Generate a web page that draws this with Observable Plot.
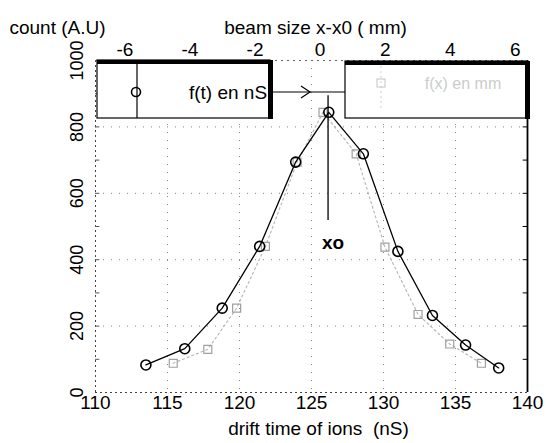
<!DOCTYPE html>
<html><head><meta charset="utf-8">
<script src="https://cdn.jsdelivr.net/npm/d3@7"></script>
<script src="https://cdn.jsdelivr.net/npm/@observablehq/plot@0.6"></script>
<style>
html,body{margin:0;padding:0;background:#fff;}
#chart svg{display:block;}
</style></head><body><div id="chart"></div>
<script>
// ---- data ----
const driftTime   = [113.5, 116.2, 118.8, 121.4, 123.9, 126.2, 128.6, 131.0, 133.4, 135.7, 138.0];
const countCircle = [83, 132, 254, 440, 694, 844, 719, 425, 232, 143, 74];
const squareTime  = [115.4, 117.8, 119.8, 121.8, 124.0, 125.8, 128.1, 130.1, 132.4, 134.6, 136.8];
const countSquare = [88, 130, 254, 440, 694, 844, 719, 438, 235, 146, 88];
const xTicks  = [110, 115, 120, 125, 130, 135, 140];
const yTicks  = [0, 200, 400, 600, 800, 1000];
const mmTicks = [-6, -4, -2, 0, 2, 4, 6];
const minorY  = [100, 200, 300, 400, 500, 600, 700, 800, 900];
const mmZero = 125.6;      // drift time (nS) at x-x0 = 0 mm
const nsPerMm = 2.26;      // nS per mm on the top axis
const xo = 126.15, xoTop = 894, xoBottom = 518, xoLabelY = 452;
const legendLabels = ["f(t) en nS", "f(x) en mm"];
const titles = {x: "drift time of ions  (nS)", x2: "beam size x-x0 ( mm)", y: "count (A.U)"};

const circles = driftTime.map((t, i) => ({t, c: countCircle[i]}));
const squares = squareTime.map((t, i) => ({t, c: countSquare[i]}));
const toNs = mm => mmZero + mm * nsPerMm;
const font = "'Liberation Sans', Arial, sans-serif";

const plot = Plot.plot({
  width: 546, height: 443,
  marginLeft: 95, marginRight: 19, marginTop: 60, marginBottom: 51,
  style: {fontFamily: font, fontSize: "19px", color: "#000", background: "#fff"},
  x: {domain: [110, 140]},
  y: {domain: [0, 1000]},
  marks: [
    Plot.gridX(xTicks.slice(1, -1), {stroke: "#888", strokeOpacity: 1, strokeDasharray: "1,7"}),
    Plot.gridY(yTicks.slice(1, -1), {stroke: "#888", strokeOpacity: 1, strokeDasharray: "1,7"}),
    Plot.ruleX([110], {stroke: "#444", strokeDasharray: "2,3"}),
    Plot.ruleY([0], {stroke: "#444", strokeDasharray: "2,3"}),
    Plot.ruleY([1000], {stroke: "#666", strokeDasharray: "2,4"}),
    Plot.ruleX([140], {stroke: "#000", strokeWidth: 1.8}),
    Plot.ruleY(minorY, {x1: 139.7, x2: 140, stroke: "#000"}),
    Plot.ruleY(minorY, {x1: 110, x2: 110.3, stroke: "#555"}),
    Plot.line(squares, {x: "t", y: "c", stroke: "#b8b8b8", strokeWidth: 1.2, strokeDasharray: "2,3"}),
    Plot.dot(squares, {x: "t", y: "c", symbol: "square", r: 4.5, stroke: "#a0a0a0", strokeWidth: 1.2, fill: "none"}),
    Plot.line(circles, {x: "t", y: "c", stroke: "#000", strokeWidth: 1.3}),
    Plot.dot(circles, {x: "t", y: "c", r: 5, stroke: "#000", strokeWidth: 1.6, fill: "none"}),
    Plot.ruleX([xo], {y1: xoTop, y2: xoBottom, stroke: "#000", strokeWidth: 1.3}),
    Plot.text([xo], {x: d => d, y: xoLabelY, text: () => "xo", fontWeight: "bold", fontSize: 19, dx: 5}),
    Plot.axisX(xTicks, {anchor: "bottom", tickSize: 0, tickPadding: 3, fontSize: 19, label: null,
      tickFormat: d => String(d)}),
    Plot.axisX(mmTicks.map(toNs), {anchor: "top", tickSize: 0, tickPadding: 5, fontSize: 19, label: null,
      tickFormat: d => String(Math.round((d - mmZero) / nsPerMm))}),
    Plot.axisY(yTicks, {anchor: "left", tickSize: 0, tickRotate: -90, tickPadding: 13, fontSize: 18, label: null,
      tickFormat: d => String(d)}),
    Plot.text([titles.x], {frameAnchor: "bottom", text: d => d, dy: 42, dx: 7, fontSize: 19}),
    Plot.text([titles.x2], {frameAnchor: "top", text: d => d, dy: -40, dx: 4, fontSize: 19}),
    Plot.text([titles.y], {frameAnchor: "top-left", text: d => d, textAnchor: "middle", dy: -40, dx: -38, fontSize: 19})
  ]
});
document.getElementById("chart").appendChild(plot);

// ---- legend boxes (annotation layer) ----
const svg = d3.select(plot);
const lg = svg.append("g").attr("font-family", font);
function box(x, y, w, h) {
  lg.append("rect").attr("x", x).attr("y", y).attr("width", w).attr("height", h)
    .attr("fill", "#fff").attr("stroke", "#000").attr("stroke-width", 1.2);
  lg.append("rect").attr("x", x).attr("y", y).attr("width", w + 3).attr("height", 4).attr("fill", "#000");
  lg.append("rect").attr("x", x + w - 2).attr("y", y).attr("width", 5).attr("height", h + 1).attr("fill", "#000");
}
box(97, 60, 173, 58);
box(345, 61, 182, 57);
// left legend entry
lg.append("line").attr("x1", 137).attr("x2", 137).attr("y1", 62).attr("y2", 118).attr("stroke", "#000").attr("stroke-width", 1.2);
lg.append("circle").attr("cx", 136).attr("cy", 92).attr("r", 4.5).attr("fill", "none").attr("stroke", "#000").attr("stroke-width", 1.6);
lg.append("text").attr("x", 228).attr("y", 92).attr("dy", "0.35em").attr("text-anchor", "middle")
  .attr("font-size", 19).text(legendLabels[0]);
// right legend entry (faint)
lg.append("line").attr("x1", 381).attr("x2", 381).attr("y1", 66).attr("y2", 110).attr("stroke", "#cfcfcf").attr("stroke-dasharray", "2,3");
lg.append("rect").attr("x", 377).attr("y", 79).attr("width", 8).attr("height", 8).attr("fill", "none").attr("stroke", "#c4c4c4");
lg.append("text").attr("x", 463).attr("y", 83).attr("dy", "0.35em").attr("text-anchor", "middle")
  .attr("font-size", 16).attr("fill", "#cccccc").text(legendLabels[1]);
// arrow between boxes
lg.append("path").attr("d", "M270,92H345").attr("stroke", "#000").attr("stroke-width", 1.2).attr("fill", "none");
lg.append("path").attr("d", "M301,86L310,92L301,98").attr("stroke", "#000").attr("stroke-width", 1.2).attr("fill", "none");
</script></body></html>
